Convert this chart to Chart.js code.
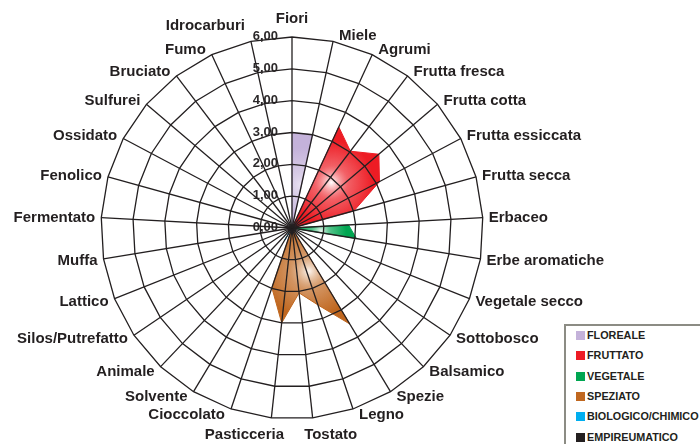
<!DOCTYPE html>
<html lang="it">
<head>
<meta charset="UTF-8">
<title>Profilo sensoriale</title>
<script src="https://cdn.jsdelivr.net/npm/chart.js"></script>
<style>
    body { margin: 0; background: #fff; }
    #wrap { position: relative; width: 700px; height: 444px; overflow: hidden; }
    #legend {
        position: absolute; left: 564px; top: 324px; width: 150px; height: 140px;
        border: 2px solid #8c8c84; background: #fff;
        font: bold 10.8px "Liberation Sans", Arial, sans-serif; color: #231f20;
    }
    .item { position: absolute; left: 10px; height: 12px; line-height: 12px; white-space: nowrap; }
    .item span { display: inline-block; width: 9px; height: 9px; margin-right: 2px; vertical-align: -1px; }
</style>
</head>
<body>
<div id="wrap">
    <canvas id="chart" width="700" height="444"></canvas>
    <div id="legend"></div>
</div>
<script>
    const categories = ['Fiori', 'Miele', 'Agrumi', 'Frutta fresca', 'Frutta cotta', 'Frutta essiccata',
        'Frutta secca', 'Erbaceo', 'Erbe aromatiche', 'Vegetale secco', 'Sottobosco', 'Balsamico',
        'Spezie', 'Legno', 'Tostato', 'Pasticceria', 'Cioccolato', 'Solvente', 'Animale',
        'Silos/Putrefatto', 'Lattico', 'Muffa', 'Fermentato', 'Fenolico', 'Ossidato', 'Sulfurei',
        'Bruciato', 'Fumo', 'Idrocarburi'];

    // one value per category, same order as above
    const floreale   = [3.0, 3.0, 0, 0, 0, 0, 0, 0, 0, 0, 0, 0, 0, 0, 0, 0, 0, 0, 0, 0, 0, 0, 0, 0, 0, 0, 0, 0, 0];
    const fruttato   = [0, 0, 3.5, 3.03, 3.58, 3.11, 2.02, 0, 0, 0, 0, 0, 0, 0, 0, 0, 0, 0, 0, 0, 0, 0, 0, 0, 0, 0, 0, 0, 0];
    const vegetale   = [0, 0, 0, 0, 0, 0, 0, 1.78, 2.05, 0, 0, 0, 0, 0, 0, 0, 0, 0, 0, 0, 0, 0, 0, 0, 0, 0, 0, 0, 0];
    const speziato   = [0, 0, 0, 0, 0, 0, 0, 0, 0, 0, 0, 0, 3.52, 2.55, 2.05, 3.0, 1.98, 0, 0, 0, 0, 0, 0, 0, 0, 0, 0, 0, 0];
    const biologico  = [0, 0, 0, 0, 0, 0, 0, 0, 0, 0, 0, 0, 0, 0, 0, 0, 0, 0.45, 0, 0, 0, 0, 0, 0, 0, 0, 0, 0, 0];
    const empireum   = [0, 0, 0, 0, 0, 0, 0, 0, 0, 0, 0, 0, 0, 0, 0, 0, 0, 0, 0, 0, 0, 0, 0, 0, 0, 0, 0, 0, 0];

    const seriesNames = ['FLOREALE', 'FRUTTATO', 'VEGETALE', 'SPEZIATO', 'BIOLOGICO/CHIMICO', 'EMPIREUMATICO'];
    const seriesData = [floreale, fruttato, vegetale, speziato, biologico, empireum];

    const tickValues = [0, 1, 2, 3, 4, 5, 6];
    const tickLabels = ['0,00', '1,00', '2,00', '3,00', '4,00', '5,00', '6,00'];

    const colors = ['#c4b2da', '#ed1c24', '#00a651', '#c0671f', '#00aeef', '#231f20'];
    const lightColors = ['#ebe4f3', '#ffffff', '#f4fbf6', '#fdf6f0', '#ffffff', '#231f20'];
    const ink = '#231f20';
    const labelFont = 'bold 15px "Liberation Sans", Arial, sans-serif';
    const tickFont = 'bold 13px "Liberation Sans", Arial, sans-serif';
    const labelNudge = { 'Idrocarburi': -10 };

    function withAlpha(hex, a) {
        const n = parseInt(hex.slice(1), 16);
        return 'rgba(' + (n >> 16) + ',' + ((n >> 8) & 255) + ',' + (n & 255) + ',' + a + ')';
    }

    // radial gradient centred on each shape, white in the middle
    function gradientFill(color, light) {
        return function (ctx) {
            const chart = ctx.chart;
            const s = chart.scales.r;
            if (!s || !isFinite(s.xCenter) || !s.drawingArea) return color;
            const data = chart.data.datasets[ctx.datasetIndex].data;
            let x0 = s.xCenter, x1 = s.xCenter, y0 = s.yCenter, y1 = s.yCenter;
            const pts = data.map((v, i) => s.getPointPositionForValue(i, v));
            pts.forEach(p => {
                x0 = Math.min(x0, p.x); x1 = Math.max(x1, p.x);
                y0 = Math.min(y0, p.y); y1 = Math.max(y1, p.y);
            });
            const cx = (x0 + x1) / 2 - (x0 + x1 - 2 * s.xCenter) * 0.05;
            const cy = (y0 + y1) / 2 - (y0 + y1 - 2 * s.yCenter) * 0.05;
            let r = 1;
            pts.forEach(p => { r = Math.max(r, Math.hypot(p.x - cx, p.y - cy)); });
            const g = chart.ctx.createRadialGradient(cx, cy, 0, cx, cy, r * 0.7);
            g.addColorStop(0, light);
            g.addColorStop(0.4, withAlpha(color, 0.7));
            g.addColorStop(1, color);
            return g;
        };
    }

    const textPlugin = {
        id: 'textPlugin',
        beforeDatasetsDraw(chart) {
            const s = chart.scales.r, ctx = chart.ctx;
            ctx.save();
            ctx.font = tickFont;
            ctx.fillStyle = '#2c292a';
            ctx.textAlign = 'right';
            ctx.textBaseline = 'middle';
            tickLabels.forEach((t, i) => {
                const y = s.yCenter - s.getDistanceFromCenterForValue(tickValues[i]);
                ctx.fillText(t, s.xCenter - 14, y - 0.5);
            });
            ctx.restore();
        },
        afterDraw(chart) {
            const s = chart.scales.r, ctx = chart.ctx;
            ctx.save();
            ctx.font = labelFont;
            ctx.fillStyle = ink;
            ctx.textAlign = 'center';
            ctx.textBaseline = 'middle';
            categories.forEach((lab, i) => {
                const a = s.getIndexAngle(i);
                const p = s.getPointPosition(i, s.drawingArea);
                const sn = Math.sin(a), cs = Math.cos(a);
                const w = ctx.measureText(lab).width;
                let cx, cy;
                if (Math.abs(sn) < 0.02) {
                    cx = p.x; cy = p.y - Math.sign(cs) * 18;
                } else if (Math.abs(sn) < 0.15) {
                    cx = p.x + Math.sign(sn) * w * 0.34; cy = p.y - cs * 17.5;
                } else {
                    cx = p.x + Math.sign(sn) * (6 + w / 2); cy = p.y - 6 * cs + 0.5;
                }
                cy += labelNudge[lab] || 0;
                ctx.fillText(lab, cx, cy);
            });
            ctx.restore();
        }
    };

    const datasets = seriesNames.map((name, i) => ({
        label: name,
        data: seriesData[i],
        backgroundColor: gradientFill(colors[i], lightColors[i]),
        borderColor: colors[i],
        borderWidth: 1,
        pointRadius: 0,
        pointHoverRadius: 0,
        fill: true,
        tension: 0
    }));

    new Chart(document.getElementById('chart'), {
        type: 'radar',
        data: { labels: categories, datasets: datasets },
        options: {
            responsive: false,
            animation: false,
            devicePixelRatio: 1,
            layout: { padding: { left: 101, right: 217, top: 37, bottom: 25 } },
            plugins: { legend: { display: false }, tooltip: { enabled: false } },
            scales: {
                r: {
                    min: 0,
                    max: 6,
                    ticks: { display: false, stepSize: 1 },
                    pointLabels: { display: false },
                    grid: { color: ink, lineWidth: 1.3, z: 1 },
                    angleLines: { color: ink, lineWidth: 1.3 }
                }
            }
        },
        plugins: [textPlugin]
    });

    // legend box, bottom right
    const legend = document.getElementById('legend');
    seriesNames.forEach((name, i) => {
        const item = document.createElement('div');
        item.className = 'item';
        item.style.top = (3 + i * 20.3) + 'px';
        item.innerHTML = '<span style="background:' + colors[i] + '"></span>' + name;
        legend.appendChild(item);
    });
</script>
</body>
</html>
